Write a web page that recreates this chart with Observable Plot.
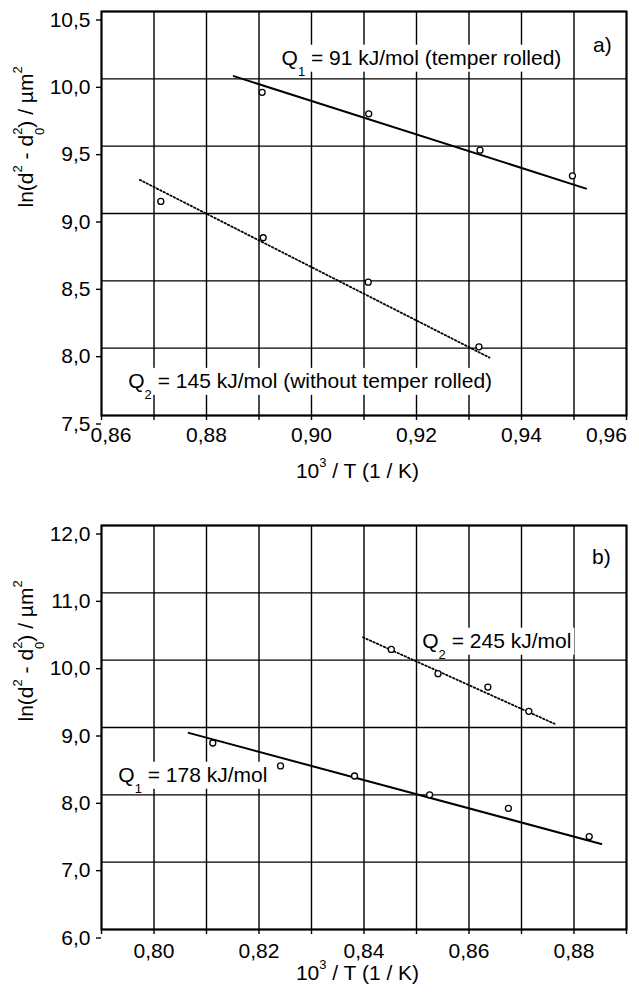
<!DOCTYPE html>
<html><head><meta charset="utf-8">
<script src="https://cdn.jsdelivr.net/npm/d3@7"></script>
<script src="https://cdn.jsdelivr.net/npm/@observablehq/plot@0.6"></script>
<style>
body{margin:0;background:#fff;}
#chart svg{display:block;}
</style></head><body><div id="chart"></div>
<script>
// ---------- Panel a) data ----------
const aXTicks = [0.86,0.87,0.88,0.89,0.90,0.91,0.92,0.93,0.94,0.95,0.96];
const aXLabelsMid = [0.88,0.90,0.92,0.94];
const aXLabelFirst = [0.86];
const aXLabelLast = [0.96];
const aYTicks = [7.5,8.0,8.5,9.0,9.5,10.0,10.5];

const aRolledX = [0.8906,0.9109,0.9321,0.9497];
const aRolledY = [9.90,9.74,9.47,9.28];
const aRolledFitX = [0.8852,0.9523];
const aRolledFitY = [10.02,9.185];

const aPlainX = [0.8713,0.8908,0.9108,0.9319];
const aPlainY = [9.09,8.82,8.49,8.01];
const aPlainFitX = [0.8673,0.9339];
const aPlainFitY = [9.25,7.93];

const aLabels = ["Q_1 = 91 kJ/mol (temper rolled)","Q_2 = 145 kJ/mol (without temper rolled)"];
const aLabelX = [0.8943,0.8651];
const aLabelY = [10.155,7.755];
const aTag = "a)";
const aTagX = 0.9554, aTagY = 10.248;

// ---------- Panel b) data ----------
const bXTicks = [0.79,0.80,0.81,0.82,0.83,0.84,0.85,0.86,0.87,0.88,0.89];
const bXLabels = [0.80,0.82,0.84,0.86,0.88];
const bYTicks = [6,7,8,9,10,11,12];

const bQ1X = [0.8112,0.8241,0.8382,0.8525,0.8675,0.8829];
const bQ1Y = [8.77,8.43,8.28,8.00,7.80,7.38];
const bQ1FitX = [0.8066,0.8852];
const bQ1FitY = [8.92,7.27];

const bQ2X = [0.8452,0.8541,0.8636,0.8714];
const bQ2Y = [10.16,9.80,9.60,9.24];
const bQ2FitX = [0.8398,0.8763];
const bQ2FitY = [10.34,9.055];

const bLabels = ["Q_2 = 245 kJ/mol","Q_1 = 178 kJ/mol"];
const bLabelX = [0.8511,0.7932];
const bLabelY = [10.285,8.294];
const bTag = "b)";
const bTagX = 0.8852, bTagY = 11.53;

const xTitle = "10^3 / T (1 / K)";
const yTitle = "ln(d^2 - d_0^2) / µm^2";

// ---------- helpers ----------
const FONT = "'Liberation Sans', Arial, Helvetica, sans-serif";
const rows = (xs, ys) => xs.map((x, i) => ({x, y: ys[i]}));
const fmt2 = d => d.toFixed(2).replace(".", ",");
const fmt1 = d => d.toFixed(1).replace(".", ",");
const GRID = {stroke: "black", strokeOpacity: 1, strokeWidth: 1.4};

function panel({xDomain, yDomain, xTicks, yTicks, xLabelMarks, yDy, mTop, mBottom, fits, pts, labels, tag, xTitleDy}) {
  return Plot.plot({
    width: 639, height: 498,
    marginLeft: 101, marginRight: 13, marginTop: mTop, marginBottom: mBottom,
    style: {fontFamily: FONT, fontSize: "21px", color: "black", background: "white"},
    x: {domain: xDomain, label: null},
    y: {domain: yDomain, label: null},
    marks: [
      Plot.gridX(xTicks, GRID),
      Plot.gridY(yTicks, GRID),
      Plot.frame({stroke: "black", strokeWidth: 2}),
      Plot.axisX(xTicks, {tickSize: 5, strokeWidth: 1.4, tickFormat: () => "", label: null}),
      ...xLabelMarks,
      Plot.axisY(yTicks, {tickSize: 5, strokeWidth: 1.4, tickPadding: 6, dy: yDy, tickFormat: fmt1, label: null, fontSize: 21}),
      Plot.line(fits[0], {x: "x", y: "y", stroke: "black", strokeWidth: 2}),
      Plot.line(fits[1], {x: "x", y: "y", stroke: "black", strokeWidth: 1.8, strokeDasharray: "1.5,2.3"}),
      Plot.dot(pts, {x: "x", y: "y", r: 3, stroke: "black", strokeWidth: 1.3, fill: "white"}),
      Plot.text(labels, {x: "x", y: "y", text: "t", textAnchor: "start", fontSize: 21, fill: "black"}),
      Plot.text([tag], {x: "x", y: "y", text: "t", textAnchor: "middle", fontSize: 21, fill: "black"}),
      Plot.text([xTitle], {frameAnchor: "bottom", lineAnchor: "middle", dy: xTitleDy, dx: -6.5, text: d => d, fontSize: 21, fill: "black"}),
      Plot.text([yTitle], {frameAnchor: "left", lineAnchor: "middle", rotate: -90, dx: -75.7, dy: -6, text: d => d, fontSize: 21, fill: "black"})
    ]
  });
}

const xLab = (vals, pad, dx) => Plot.axisX(vals, {tickSize: 0, tickPadding: pad, dx, tickFormat: fmt2, label: null, fontSize: 21});

const svgA = panel({
  xDomain: [0.86, 0.96], yDomain: [7.5, 10.5],
  xTicks: aXTicks, yTicks: aYTicks,
  xLabelMarks: [xLab(aXLabelsMid, 12, 0), xLab(aXLabelFirst, 12, 9.5), xLab(aXLabelLast, 12, -20)],
  yDy: 8.5, mTop: 11, mBottom: 83,
  fits: [rows(aRolledFitX, aRolledFitY), rows(aPlainFitX, aPlainFitY)],
  pts: [...rows(aRolledX, aRolledY), ...rows(aPlainX, aPlainY)],
  labels: aLabels.map((t, i) => ({t, x: aLabelX[i], y: aLabelY[i]})),
  tag: {t: aTag, x: aTagX, y: aTagY},
  xTitleDy: 56
});

const svgB = panel({
  xDomain: [0.79, 0.89], yDomain: [6, 12],
  xTicks: bXTicks, yTicks: bYTicks,
  xLabelMarks: [xLab(bXLabels, 14, 0)],
  yDy: 8.5, mTop: 27, mBottom: 67,
  fits: [rows(bQ1FitX, bQ1FitY), rows(bQ2FitX, bQ2FitY)],
  pts: [...rows(bQ1X, bQ1Y), ...rows(bQ2X, bQ2Y)],
  labels: bLabels.map((t, i) => ({t, x: bLabelX[i], y: bLabelY[i]})),
  tag: {t: bTag, x: bTagX, y: bTagY},
  xTitleDy: 44
});

const chart = document.getElementById("chart");
chart.appendChild(svgA);
chart.appendChild(svgB);

// ---------- rich text (sub/superscripts) + white label boxes ----------
const NS = "http://www.w3.org/2000/svg";
const SUB = 11, SUP = -11, SMALL = 13;
function richify(el) {
  const s = el.textContent;
  if (!/[_^]/.test(s)) return false;
  while (el.firstChild) el.removeChild(el.firstChild);
  let cur = 0, buf = "";
  const add = (t, off, size, dx) => {
    const ts = document.createElementNS(NS, "tspan");
    ts.textContent = t;
    const dy = off - cur;
    if (dy) ts.setAttribute("dy", dy);
    if (dx) ts.setAttribute("dx", dx);
    if (size) ts.setAttribute("font-size", size);
    cur = off;
    el.appendChild(ts);
  };
  const flush = () => { if (buf) { add(buf, 0); buf = ""; } };
  for (let i = 0; i < s.length; i++) {
    const c = s[i];
    if (c === "_") {
      flush(); add(s[i + 1], SUB, SMALL); i++;
      if (s[i + 1] === "^") { add(s[i + 2], SUP, SMALL, -7.2); i += 2; }
    } else if (c === "^") {
      flush(); add(s[i + 1], SUP, SMALL); i++;
    } else buf += c;
  }
  flush();
  return true;
}
for (const svg of [svgA, svgB]) {
  for (const el of Array.from(svg.querySelectorAll("text"))) {
    const isLabel = el.textContent.startsWith("Q_");
    richify(el);
    if (isLabel) {
      const b = el.getBBox();
      // box from just above the capitals to a little under the baseline
      const r = document.createElementNS(NS, "rect");
      r.setAttribute("x", b.x - 3);
      r.setAttribute("y", b.y - 1);
      r.setAttribute("width", b.width + 6);
      r.setAttribute("height", 27);
      r.setAttribute("fill", "white");
      r.setAttribute("stroke", "none");
      const tr = el.getAttribute("transform");
      if (tr) r.setAttribute("transform", tr);
      el.parentNode.insertBefore(r, el);
    }
  }
}
</script></body></html>
